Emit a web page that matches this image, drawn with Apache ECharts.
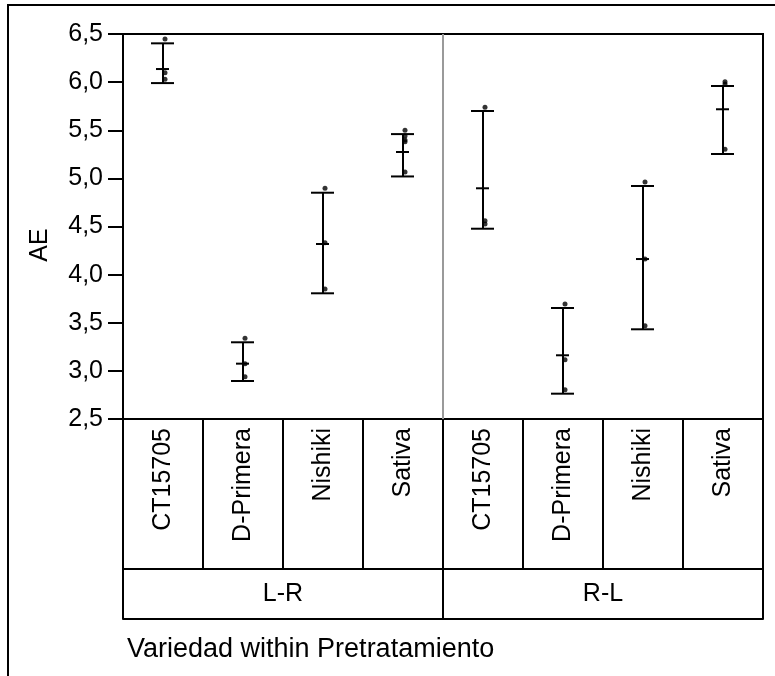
<!DOCTYPE html>
<html>
<head>
<meta charset="utf-8">
<script src="https://cdn.jsdelivr.net/npm/echarts@6/dist/echarts.min.js"></script>
<style>
html,body{margin:0;padding:0;background:#fff;}
#c{width:775px;height:676px;}
</style>
</head>
<body>
<div id="c"></div>
<script>
// ---- data ----
const groups = ['L-R', 'R-L'];
const varieties = ['CT15705', 'D-Primera', 'Nishiki', 'Sativa'];
const yTickLabels = ['2,5','3,0','3,5','4,0','4,5','5,0','5,5','6,0','6,5'];
const barLow  = [5.99, 2.895, 3.806, 5.02, 4.477, 2.763, 3.432, 5.253];
const barHigh = [6.403, 3.297, 4.851, 5.46, 5.70, 3.653, 4.921, 5.960];
const barMean = [6.136, 3.075, 4.318, 5.274, 4.897, 3.162, 4.162, 5.718];
const points = [
  [6.448, 6.098, 6.029],
  [3.338, 3.075, 2.939],
  [4.897, 4.332, 3.851],
  [5.50, 5.44, 5.40, 5.38, 5.066],
  [5.738, 4.560, 4.526],
  [3.695, 3.116, 2.804],
  [4.962, 4.162, 3.469],
  [6.004, 5.98, 5.302]
];
// ---- build ----
const cats = [];
groups.forEach(g => varieties.forEach(v => cats.push(g + '|' + v)));
const barData = cats.map((c, i) => [i, barLow[i], barHigh[i], barMean[i]]);
const ptData = [];
points.forEach((arr, i) => arr.forEach(v => ptData.push([i, v])));
// boundaries between groups (index of first category of each later group)
const dividerData = groups.slice(1).map((g, k) => [(k + 1) * varieties.length]);

const FONT = 'Liberation Sans, Arial, sans-serif';
const chart = echarts.init(document.getElementById('c'), null, {renderer: 'canvas'});
chart.setOption({
  animation: false,
  backgroundColor: '#fff',
  grid: {left: 123, right: 12, top: 34, bottom: 257, show: true, borderColor: '#000', borderWidth: 2, backgroundColor: 'transparent'},
  xAxis: [
    {
      type: 'category', data: cats, position: 'bottom', boundaryGap: true,
      axisLine: {show: true, lineStyle: {color: '#000', width: 2}},
      axisTick: {show: true, interval: 0, length: 150, lineStyle: {color: '#000', width: 2}},
      axisLabel: {interval: 0, rotate: 90, margin: 9, fontSize: 25, color: '#000', fontFamily: FONT,
        formatter: v => v.split('|')[1]},
      splitLine: {show: false}
    },
    {
      type: 'category', data: groups, position: 'bottom', offset: 150, boundaryGap: true,
      axisLine: {show: true, lineStyle: {color: '#000', width: 2}},
      axisTick: {show: true, interval: 0, length: 50, lineStyle: {color: '#000', width: 2}},
      axisLabel: {interval: 0, margin: 13, fontSize: 25, color: '#000', fontFamily: FONT},
      splitLine: {show: false}
    },
    {
      type: 'category', data: groups, position: 'bottom', offset: 200,
      axisLine: {show: true, lineStyle: {color: '#000', width: 2}},
      axisTick: {show: false}, axisLabel: {show: false}, splitLine: {show: false}
    }
  ],
  yAxis: {
    type: 'value', min: 2.5, max: 6.5, interval: 0.5,
    axisLine: {show: true, lineStyle: {color: '#000', width: 2}},
    axisTick: {show: true, length: 15, lineStyle: {color: '#000', width: 2}},
    axisLabel: {fontSize: 25, color: '#000', margin: 20, fontFamily: FONT,
      formatter: (v) => yTickLabels[Math.round((v - 2.5) / 0.5)]},
    splitLine: {show: false}
  },
  graphic: [
    {type: 'rect', shape: {x: 8, y: 5, width: 820, height: 720}, style: {fill: 'none', stroke: '#000', lineWidth: 2}, z: 100},
    {type: 'text', left: 127, top: 636, style: {text: 'Variedad within Pretratamiento', fontSize: 27, fontFamily: FONT, fill: '#000'}},
    {type: 'text', x: 40, y: 245, rotation: Math.PI / 2, style: {text: 'AE', fontSize: 25, fontFamily: FONT, fill: '#000', align: 'center', verticalAlign: 'middle'}}
  ],
  series: [
    {
      type: 'custom', xAxisIndex: 0, data: dividerData, silent: true,
      renderItem: function (params, api) {
        const i = api.value(0);
        const a = api.coord([i - 1, 2.5]);
        const b = api.coord([i, 6.5]);
        const x = (a[0] + b[0]) / 2;
        return {type: 'line', shape: {x1: x, y1: a[1], x2: x, y2: b[1]}, style: {stroke: '#9a9a9a', lineWidth: 2}};
      },
      z: 1
    },
    {
      type: 'custom', xAxisIndex: 0, data: barData,
      renderItem: function (params, api) {
        const i = api.value(0);
        const lo = api.coord([i, api.value(1)]);
        const hi = api.coord([i, api.value(2)]);
        const mn = api.coord([i, api.value(3)]);
        const x = lo[0];
        const st = {stroke: '#000', lineWidth: 2};
        return {type: 'group', children: [
          {type: 'line', shape: {x1: x, y1: lo[1], x2: x, y2: hi[1]}, style: st},
          {type: 'line', shape: {x1: x - 12, y1: hi[1], x2: x + 11, y2: hi[1]}, style: st},
          {type: 'line', shape: {x1: x - 12, y1: lo[1], x2: x + 11, y2: lo[1]}, style: st},
          {type: 'line', shape: {x1: x - 7, y1: mn[1], x2: x + 6, y2: mn[1]}, style: st}
        ]};
      },
      z: 5
    },
    {
      type: 'scatter', xAxisIndex: 0, data: ptData, symbol: 'circle', symbolSize: 5,
      symbolOffset: [2, 0], itemStyle: {color: '#000'}, z: 6
    }
  ]
});
</script>
</body>
</html>
